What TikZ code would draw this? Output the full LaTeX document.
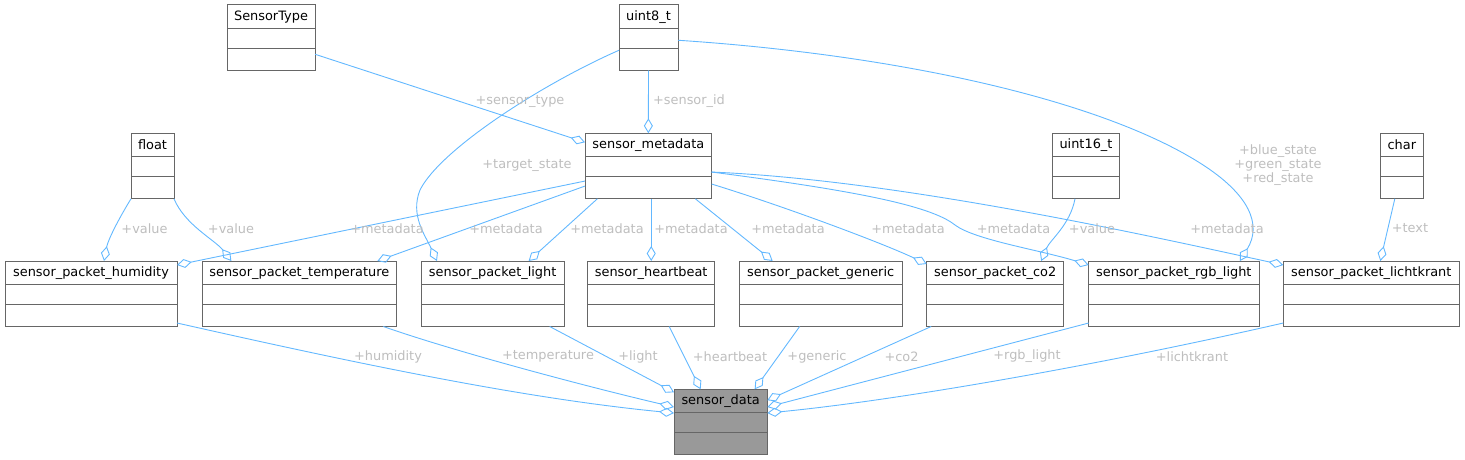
\documentclass[tikz,border=0pt]{standalone}
\usepackage{fontspec}
\setmainfont{DejaVu Sans}
\usetikzlibrary{arrows.meta,calc}
\definecolor{edgeblue}{HTML}{63B8FF}
\definecolor{boxgray}{HTML}{666666}
\definecolor{lblgray}{HTML}{BEBEBE}
\definecolor{datagray}{HTML}{999999}
\newcommand\umlbox[6]{%
  \node[box,#6,minimum width={(#3-#2)*1pt},minimum height=65.5pt,anchor=north west] (#1) at (#2,#4) {};
  \node[boxtxt] (#1-txt) at ([yshift=-11.75pt]#1.north) {#5};
  \draw[boxline] ([yshift=-23.5pt]#1.north west) -- ([yshift=-23.5pt]#1.north east);
  \draw[boxline] ([yshift=-43.5pt]#1.north west) -- ([yshift=-43.5pt]#1.north east);
}
\begin{document}
\begin{tikzpicture}[x=1pt,y=-1pt,
  box/.style={draw=boxgray,fill=white,line width=1pt,inner sep=0pt,outer sep=0pt},
  datafill/.style={fill=datagray},
  plain/.style={},
  boxtxt/.style={inner sep=0pt,font=\fontsize{12.9}{14.5}\selectfont,text=black},
  boxline/.style={draw=boxgray,line width=1pt},
  agg/.style={draw=edgeblue,line width=0.9pt,-{Diamond[open,length=15pt,width=9pt]}},
  lbl/.style={inner sep=0pt,font=\fontsize{12.9}{14.5}\selectfont,text=lblgray,align=center}]
\useasboundingbox (0,0) rectangle (1465,460);

% boxes
\umlbox{stype}{227}{315}{5}{SensorType}{plain}
\umlbox{u8}{619}{678}{5}{uint8\_t}{plain}
\umlbox{flt}{131}{174}{133.3}{float}{plain}
\umlbox{meta}{585}{711.7}{133.3}{sensor\_metadata}{plain}
\umlbox{u16}{1052.7}{1119.3}{133.3}{uint16\_t}{plain}
\umlbox{chr}{1380.3}{1423.3}{133.3}{char}{plain}
\umlbox{hum}{5}{177}{261}{sensor\_packet\_humidity}{plain}
\umlbox{temp}{202}{396.7}{261}{sensor\_packet\_temperature}{plain}
\umlbox{light}{421.3}{564}{261}{sensor\_packet\_light}{plain}
\umlbox{hb}{587.7}{714.7}{261}{sensor\_heartbeat}{plain}
\umlbox{gen}{739.3}{902}{261}{sensor\_packet\_generic}{plain}
\umlbox{co2}{926.7}{1063.7}{261}{sensor\_packet\_co2}{plain}
\umlbox{rgb}{1088.7}{1259}{261}{sensor\_packet\_rgb\_light}{plain}
\umlbox{lk}{1283.3}{1459.3}{261}{sensor\_packet\_lichtkrant}{plain}
\umlbox{data}{674}{767.3}{389.3}{sensor\_data}{datafill}

% upper connectors
\draw[agg] ([yshift=-16.5pt]stype.east) -- ([yshift=-9pt]meta.north west);
\draw[agg] (u8.south) -- (meta.north);
\draw[agg] ([yshift=-12.5pt]u8.west) .. controls (540,85) and (440,150) .. (420,190) .. controls (410,215) and (425,235) .. ([xshift=-55.7pt]light.north);
\draw[agg] ([yshift=-2.5pt]u8.east) .. controls (900,55) and (1100,100) .. (1200,163) .. controls (1250,194.5) and (1262,225) .. ([xshift=66pt]rgb.north);
\draw[agg] (flt.south west) .. controls (118,220) and (108,240) .. ([xshift=13pt]hum.north);
\draw[agg] (flt.south east) .. controls (185,225) and (215,240) .. ([xshift=-68pt]temp.north);
\draw[agg] ([yshift=-15pt]meta.west) -- ([yshift=-4pt]hum.north east);
\draw[agg] ([yshift=-20pt]meta.west) -- ([xshift=78pt]temp.north);
\draw[agg] ([xshift=-51pt]meta.south) -- ([xshift=36pt]light.north);
\draw[agg] (hb.north |- meta.south) -- (hb.north);
\draw[agg] ([xshift=47pt]meta.south) -- ([xshift=-48pt]gen.north);
\draw[agg] ([yshift=-18pt]meta.east) .. controls (780,205) and (880,242) .. ([yshift=-3pt]co2.north west);
\draw[agg] ([yshift=-6pt]meta.east) .. controls (850,190) and (930,205) .. (955,225) .. controls (975,240) and (1040,250) .. ([yshift=-4pt]rgb.north west);
\draw[agg] ([yshift=-6pt]meta.east) .. controls (900,180) and (1150,236) .. ([yshift=-4pt]lk.north west);
\draw[agg] ([xshift=-11pt]u16.south) .. controls (1070,225) and (1050,240) .. ([xshift=46pt]co2.north);
\draw[agg] ([xshift=-7pt]chr.south) -- ([xshift=9pt]lk.north);

% lower connectors
\draw[agg] ([yshift=3.5pt]hum.south east) .. controls (350,362) and (520,398) .. ([yshift=9pt]data.west);
\draw[agg] ([xshift=84pt]temp.south) .. controls (450,350) and (580,385) .. ([yshift=15pt]data.west);
\draw[agg] ([xshift=57pt]light.south) -- ([yshift=-3pt]data.north west);
\draw[agg] ([xshift=18pt]hb.south) -- ([xshift=-20pt]data.north);
\draw[agg] ([xshift=-21pt]gen.south) -- ([xshift=34pt]data.north);
\draw[agg] ([xshift=-64pt]co2.south) -- ([yshift=-11pt]data.north east);
\draw[agg] ([yshift=3.5pt]rgb.south west) -- ([yshift=15pt]data.east);
\draw[agg] ([yshift=3.5pt]lk.south west) .. controls (1100,365) and (900,400) .. ([yshift=9pt]data.east);

% labels
\node[lbl] (l1) at (520,101) {+sensor\_type};
\node[lbl] (l2) at (689,101) {+sensor\_id};
\node[lbl] (l3) at (527,165) {+target\_state};
\node[lbl] (l4) at (1278,165) {+blue\_state\\[-0.5pt]+green\_state\\[-0.5pt]+red\_state};
\node[lbl] (l5) at (144.5,228.5) {+value};
\node[lbl] (l6) at (231,228.5) {+value};
\node[lbl] (l7) at (387,228.5) {+metadata};
\node[lbl] (l8) at (506,228.5) {+metadata};
\node[lbl] (l9) at (607,228.5) {+metadata};
\node[lbl] (l10) at (691,228.5) {+metadata};
\node[lbl] (l11) at (788,228.5) {+metadata};
\node[lbl] (l12) at (908,228.5) {+metadata};
\node[lbl] (l13) at (1013.5,228.5) {+metadata};
\node[lbl] (l14) at (1092,228.5) {+value};
\node[lbl] (l15) at (1227,228.5) {+metadata};
\node[lbl] (l16) at (1410,228.5) {+text};
\node[lbl] (l17) at (388,356.5) {+humidity};
\node[lbl] (l18) at (548,356.5) {+temperature};
\node[lbl] (l19) at (638,356.5) {+light};
\node[lbl] (l20) at (730,356.5) {+heartbeat};
\node[lbl] (l21) at (817,356.5) {+generic};
\node[lbl] (l22) at (901.5,356.5) {+co2};
\node[lbl] (l23) at (1027,356.5) {+rgb\_light};
\node[lbl] (l24) at (1192,356.5) {+lichtkrant};
\end{tikzpicture}
\end{document}
